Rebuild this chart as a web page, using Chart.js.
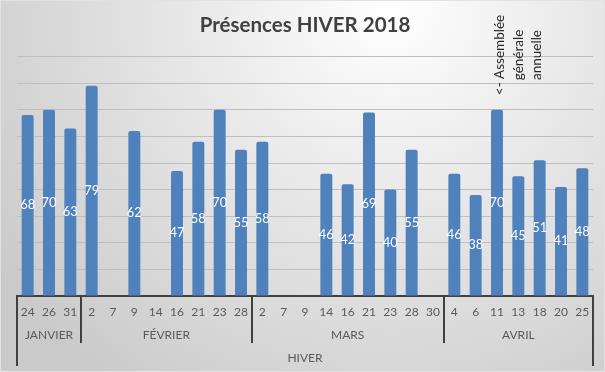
<!DOCTYPE html>
<html>
<head>
<meta charset="utf-8">
<script src="https://cdn.jsdelivr.net/npm/chart.js@4/dist/chart.umd.min.js"></script>
<style>
  html, body { margin: 0; padding: 0; background: #d0d0d0; }
  #wrap { width: 605px; height: 372px; }
</style>
</head>
<body>
<div id="wrap"><canvas id="chart" width="605" height="372"></canvas></div>
<script>
// Days of each meeting, grouped by month
const days = ['24', '26', '31',
              '2', '7', '9', '14', '16', '21', '23', '28',
              '2', '7', '9', '14', '16', '21', '23', '28', '30',
              '4', '6', '11', '13', '18', '20', '25'];
const months = ['JANVIER', 'FÉVRIER', 'MARS', 'AVRIL'];
const monthSizes = [3, 8, 9, 7];
const season = 'HIVER';
const presences = [68, 70, 63,
                   79, null, 62, null, 47, 58, 70, 55,
                   58, null, null, 46, 42, 69, 40, 55, null,
                   46, 38, 70, 45, 51, 41, 48];
const noteLines = ['<- Assemblée', 'générale', 'annuelle'];
const noteIndex = 22;

const FONT = 'Lato, "Open Sans", sans-serif';
const TEXT = '#595959';
const AXIS = '#404040';

// Gray gradient background like the Excel chart
const backgroundPlugin = {
    id: 'background',
    beforeDraw(chart) {
        const ctx = chart.ctx;
        const w = chart.width, h = chart.height;
        const g = ctx.createRadialGradient(390, 10, 0, 390, 10, 470);
        g.addColorStop(0, '#ffffff');
        g.addColorStop(0.35, '#ececec');
        g.addColorStop(1, '#cacaca');
        ctx.save();
        ctx.fillStyle = g;
        ctx.fillRect(0, 0, w, h);
        ctx.strokeStyle = '#e2e2e2';
        ctx.lineWidth = 1;
        ctx.strokeRect(0.5, 0.5, w - 1, h - 1);
        ctx.restore();
    }
};

// White value labels in the middle of each bar
const valueLabels = {
    id: 'valueLabels',
    afterDatasetsDraw(chart) {
        const ctx = chart.ctx;
        const meta = chart.getDatasetMeta(0);
        ctx.save();
        ctx.fillStyle = '#ffffff';
        ctx.font = '13px ' + FONT;
        ctx.textAlign = 'center';
        ctx.textBaseline = 'middle';
        meta.data.forEach((bar, i) => {
            const v = presences[i];
            if (v === null) return;
            ctx.fillText(String(v), bar.x, (bar.y + bar.base) / 2);
        });
        ctx.restore();
    }
};

// Multi level category axis: days, months, season + separators
const multiAxis = {
    id: 'multiAxis',
    afterDraw(chart) {
        const ctx = chart.ctx;
        const x = chart.scales.x;
        const area = chart.chartArea;
        const step = x.getPixelForValue(1) - x.getPixelForValue(0);
        const edge = i => x.getPixelForValue(i) - step / 2;
        const yBase = area.bottom;

        ctx.save();
        ctx.fillStyle = TEXT;
        ctx.textAlign = 'center';
        ctx.textBaseline = 'middle';
        ctx.font = '12px ' + FONT;
        days.forEach((d, i) => ctx.fillText(d, x.getPixelForValue(i), yBase + 16));

        ctx.font = '12px ' + FONT;
        let start = 0;
        months.forEach((m, k) => {
            const end = start + monthSizes[k];
            ctx.fillText(m, (edge(start) + edge(end)) / 2, yBase + 39);
            start = end;
        });
        ctx.fillText(season, (area.left + area.right) / 2, yBase + 62);

        ctx.strokeStyle = AXIS;
        ctx.lineWidth = 2;
        ctx.beginPath();
        start = 0;
        monthSizes.forEach((n, k) => {
            if (k > 0) {
                const px = Math.round(edge(start));
                ctx.moveTo(px, yBase);
                ctx.lineTo(px, yBase + 47);
            }
            start += n;
        });
        ctx.moveTo(area.left, yBase);
        ctx.lineTo(area.left, yBase + 70);
        ctx.moveTo(area.right, yBase);
        ctx.lineTo(area.right, yBase + 70);
        ctx.stroke();

        // annotation next to the annual meeting bar
        ctx.fillStyle = '#262626';
        ctx.font = '13.5px ' + FONT;
        const nx = x.getPixelForValue(noteIndex) + 3;
        noteLines.forEach((line, j) => {
            ctx.save();
            ctx.translate(nx + j * 18.5, 55);
            ctx.rotate(-Math.PI / 2);
            ctx.fillText(line, 0, 0);
            ctx.restore();
        });
        ctx.restore();
    }
};

new Chart(document.getElementById('chart'), {
    type: 'bar',
    data: {
        labels: days.map((d, i) => i),
        datasets: [{
            label: 'Présences',
            data: presences,
            backgroundColor: '#4f81bd',
            borderRadius: 2,
            borderSkipped: 'bottom',
            barPercentage: 0.56,
            categoryPercentage: 1
        }]
    },
    options: {
        responsive: false,
        animation: false,
        layout: { padding: { left: 17, right: 12, top: 0, bottom: 68 } },
        plugins: {
            legend: { display: false },
            tooltip: { enabled: false },
            title: {
                display: true,
                text: 'Présences HIVER 2018',
                color: AXIS,
                font: { family: FONT, size: 20.5, weight: 'bold' },
                padding: { top: 13, bottom: 19 }
            }
        },
        scales: {
            x: {
                offset: true,
                ticks: { display: false },
                grid: { display: false },
                border: { display: true, color: AXIS, width: 2 }
            },
            y: {
                min: 0,
                max: 90,
                ticks: { display: false, stepSize: 10 },
                grid: { color: '#bfbfbf', drawTicks: false, lineWidth: 1 },
                border: { display: false }
            }
        }
    },
    plugins: [backgroundPlugin, valueLabels, multiAxis]
});
</script>
</body>
</html>
